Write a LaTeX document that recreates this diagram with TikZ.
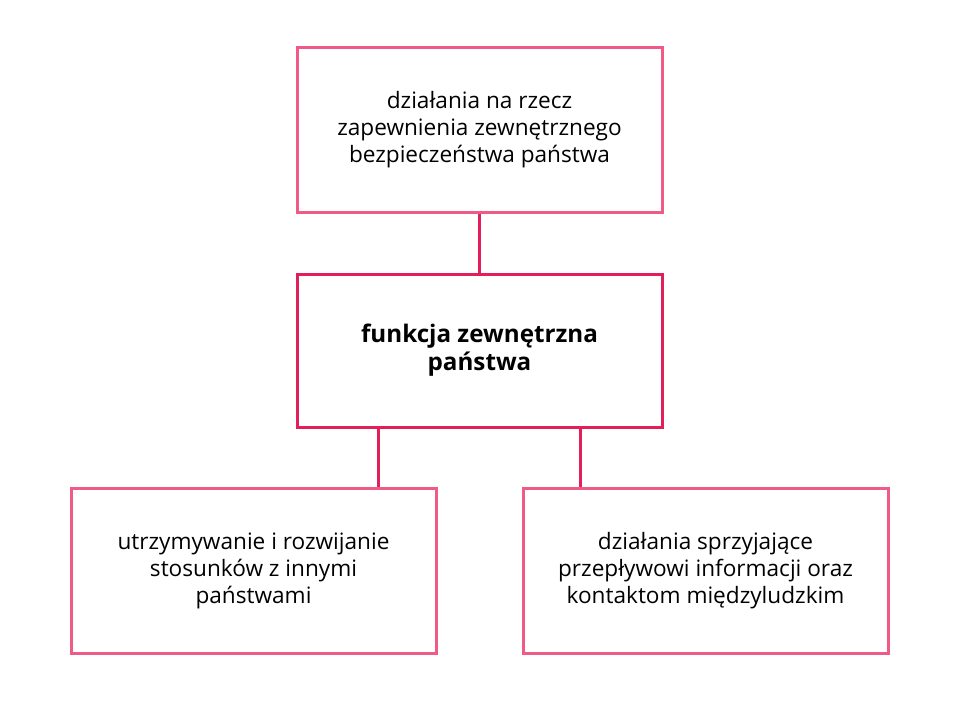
\documentclass[tikz,border=0pt]{standalone}
\usepackage{fontspec}
\setmainfont{Open Sans}
\definecolor{outerpink}{HTML}{EF5B86}
\definecolor{midred}{HTML}{E21F5A}
\begin{document}
\begin{tikzpicture}[x=1pt,y=-1pt,
  box/.style={draw=outerpink,line width=3pt,minimum width=365pt,minimum height=165pt,align=center,font=\fontsize{22.6}{27}\selectfont,inner sep=0pt},
  midbox/.style={draw=midred,line width=3pt,minimum width=365pt,minimum height=153pt,align=center,font=\fontsize{24.2}{28}\selectfont\bfseries,inner sep=0pt},
  link/.style={draw=midred,line width=3pt}]
\useasboundingbox (0,0) rectangle (959,728);
\node[box] (top) at (479.5,129.5) {działania na rzecz\\zapewnienia zewnętrznego\\bezpieczeństwa państwa};
\node[midbox] (mid) at (479.5,350.5) {funkcja zewnętrzna\\państwa};
\node[box] (bl) at (253.5,570.5) {utrzymywanie i rozwijanie\\stosunków z innymi\\państwami};
\node[box] (br) at (705.5,570.5) {działania sprzyjające\\przepływowi informacji oraz\\kontaktom międzyludzkim};
\draw[link] (top.south) -- (mid.north);
\draw[link] ([xshift=-101pt]mid.south) -- ([xshift=-101pt]mid.south |- bl.north);
\draw[link] ([xshift=101pt]mid.south) -- ([xshift=101pt]mid.south |- br.north);
\end{tikzpicture}
\end{document}
